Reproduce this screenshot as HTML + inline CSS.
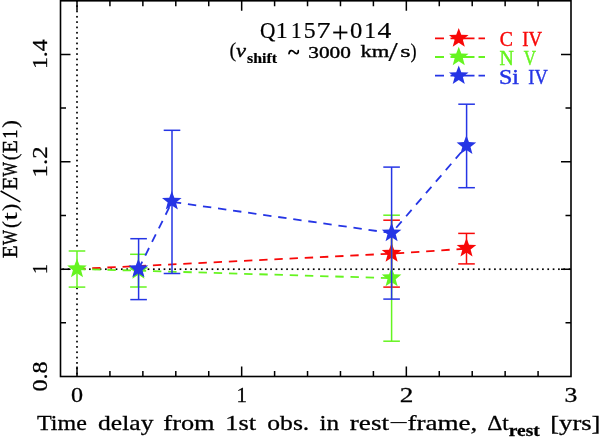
<!DOCTYPE html>
<html><head><meta charset="utf-8"><style>
html,body{margin:0;padding:0;background:#fff;}
svg{display:block;will-change:transform;}
</style></head><body>
<svg width="600" height="437" viewBox="0 0 600 437">
<rect width="600" height="437" fill="#fff"/>
<g fill="#000"><rect x="62.35" y="268.35" width="1.7" height="1.7"/><rect x="67.68" y="268.35" width="1.7" height="1.7"/><rect x="73.01" y="268.35" width="1.7" height="1.7"/><rect x="78.34" y="268.35" width="1.7" height="1.7"/><rect x="83.67" y="268.35" width="1.7" height="1.7"/><rect x="89.00" y="268.35" width="1.7" height="1.7"/><rect x="94.33" y="268.35" width="1.7" height="1.7"/><rect x="99.66" y="268.35" width="1.7" height="1.7"/><rect x="104.99" y="268.35" width="1.7" height="1.7"/><rect x="110.32" y="268.35" width="1.7" height="1.7"/><rect x="115.65" y="268.35" width="1.7" height="1.7"/><rect x="120.98" y="268.35" width="1.7" height="1.7"/><rect x="126.31" y="268.35" width="1.7" height="1.7"/><rect x="131.64" y="268.35" width="1.7" height="1.7"/><rect x="136.97" y="268.35" width="1.7" height="1.7"/><rect x="142.30" y="268.35" width="1.7" height="1.7"/><rect x="147.63" y="268.35" width="1.7" height="1.7"/><rect x="152.96" y="268.35" width="1.7" height="1.7"/><rect x="158.29" y="268.35" width="1.7" height="1.7"/><rect x="163.62" y="268.35" width="1.7" height="1.7"/><rect x="168.95" y="268.35" width="1.7" height="1.7"/><rect x="174.28" y="268.35" width="1.7" height="1.7"/><rect x="179.61" y="268.35" width="1.7" height="1.7"/><rect x="184.94" y="268.35" width="1.7" height="1.7"/><rect x="190.27" y="268.35" width="1.7" height="1.7"/><rect x="195.60" y="268.35" width="1.7" height="1.7"/><rect x="200.93" y="268.35" width="1.7" height="1.7"/><rect x="206.26" y="268.35" width="1.7" height="1.7"/><rect x="211.59" y="268.35" width="1.7" height="1.7"/><rect x="216.92" y="268.35" width="1.7" height="1.7"/><rect x="222.25" y="268.35" width="1.7" height="1.7"/><rect x="227.58" y="268.35" width="1.7" height="1.7"/><rect x="232.91" y="268.35" width="1.7" height="1.7"/><rect x="238.24" y="268.35" width="1.7" height="1.7"/><rect x="243.57" y="268.35" width="1.7" height="1.7"/><rect x="248.90" y="268.35" width="1.7" height="1.7"/><rect x="254.23" y="268.35" width="1.7" height="1.7"/><rect x="259.56" y="268.35" width="1.7" height="1.7"/><rect x="264.89" y="268.35" width="1.7" height="1.7"/><rect x="270.22" y="268.35" width="1.7" height="1.7"/><rect x="275.55" y="268.35" width="1.7" height="1.7"/><rect x="280.88" y="268.35" width="1.7" height="1.7"/><rect x="286.21" y="268.35" width="1.7" height="1.7"/><rect x="291.54" y="268.35" width="1.7" height="1.7"/><rect x="296.87" y="268.35" width="1.7" height="1.7"/><rect x="302.20" y="268.35" width="1.7" height="1.7"/><rect x="307.53" y="268.35" width="1.7" height="1.7"/><rect x="312.86" y="268.35" width="1.7" height="1.7"/><rect x="318.19" y="268.35" width="1.7" height="1.7"/><rect x="323.52" y="268.35" width="1.7" height="1.7"/><rect x="328.85" y="268.35" width="1.7" height="1.7"/><rect x="334.18" y="268.35" width="1.7" height="1.7"/><rect x="339.51" y="268.35" width="1.7" height="1.7"/><rect x="344.84" y="268.35" width="1.7" height="1.7"/><rect x="350.17" y="268.35" width="1.7" height="1.7"/><rect x="355.50" y="268.35" width="1.7" height="1.7"/><rect x="360.83" y="268.35" width="1.7" height="1.7"/><rect x="366.16" y="268.35" width="1.7" height="1.7"/><rect x="371.49" y="268.35" width="1.7" height="1.7"/><rect x="376.82" y="268.35" width="1.7" height="1.7"/><rect x="382.15" y="268.35" width="1.7" height="1.7"/><rect x="387.48" y="268.35" width="1.7" height="1.7"/><rect x="392.81" y="268.35" width="1.7" height="1.7"/><rect x="398.14" y="268.35" width="1.7" height="1.7"/><rect x="403.47" y="268.35" width="1.7" height="1.7"/><rect x="408.80" y="268.35" width="1.7" height="1.7"/><rect x="414.13" y="268.35" width="1.7" height="1.7"/><rect x="419.46" y="268.35" width="1.7" height="1.7"/><rect x="424.79" y="268.35" width="1.7" height="1.7"/><rect x="430.12" y="268.35" width="1.7" height="1.7"/><rect x="435.45" y="268.35" width="1.7" height="1.7"/><rect x="440.78" y="268.35" width="1.7" height="1.7"/><rect x="446.11" y="268.35" width="1.7" height="1.7"/><rect x="451.44" y="268.35" width="1.7" height="1.7"/><rect x="456.77" y="268.35" width="1.7" height="1.7"/><rect x="462.10" y="268.35" width="1.7" height="1.7"/><rect x="467.43" y="268.35" width="1.7" height="1.7"/><rect x="472.76" y="268.35" width="1.7" height="1.7"/><rect x="478.09" y="268.35" width="1.7" height="1.7"/><rect x="483.42" y="268.35" width="1.7" height="1.7"/><rect x="488.75" y="268.35" width="1.7" height="1.7"/><rect x="494.08" y="268.35" width="1.7" height="1.7"/><rect x="499.41" y="268.35" width="1.7" height="1.7"/><rect x="504.74" y="268.35" width="1.7" height="1.7"/><rect x="510.07" y="268.35" width="1.7" height="1.7"/><rect x="515.40" y="268.35" width="1.7" height="1.7"/><rect x="520.73" y="268.35" width="1.7" height="1.7"/><rect x="526.06" y="268.35" width="1.7" height="1.7"/><rect x="531.39" y="268.35" width="1.7" height="1.7"/><rect x="536.72" y="268.35" width="1.7" height="1.7"/><rect x="542.05" y="268.35" width="1.7" height="1.7"/><rect x="547.38" y="268.35" width="1.7" height="1.7"/><rect x="552.71" y="268.35" width="1.7" height="1.7"/><rect x="558.04" y="268.35" width="1.7" height="1.7"/><rect x="563.37" y="268.35" width="1.7" height="1.7"/><rect x="568.70" y="268.35" width="1.7" height="1.7"/><rect x="76.15" y="-0.05" width="1.7" height="1.7"/><rect x="76.15" y="5.28" width="1.7" height="1.7"/><rect x="76.15" y="10.60" width="1.7" height="1.7"/><rect x="76.15" y="15.92" width="1.7" height="1.7"/><rect x="76.15" y="21.25" width="1.7" height="1.7"/><rect x="76.15" y="26.57" width="1.7" height="1.7"/><rect x="76.15" y="31.90" width="1.7" height="1.7"/><rect x="76.15" y="37.23" width="1.7" height="1.7"/><rect x="76.15" y="42.55" width="1.7" height="1.7"/><rect x="76.15" y="47.88" width="1.7" height="1.7"/><rect x="76.15" y="53.20" width="1.7" height="1.7"/><rect x="76.15" y="58.53" width="1.7" height="1.7"/><rect x="76.15" y="63.85" width="1.7" height="1.7"/><rect x="76.15" y="69.18" width="1.7" height="1.7"/><rect x="76.15" y="74.50" width="1.7" height="1.7"/><rect x="76.15" y="79.83" width="1.7" height="1.7"/><rect x="76.15" y="85.15" width="1.7" height="1.7"/><rect x="76.15" y="90.48" width="1.7" height="1.7"/><rect x="76.15" y="95.80" width="1.7" height="1.7"/><rect x="76.15" y="101.13" width="1.7" height="1.7"/><rect x="76.15" y="106.45" width="1.7" height="1.7"/><rect x="76.15" y="111.78" width="1.7" height="1.7"/><rect x="76.15" y="117.10" width="1.7" height="1.7"/><rect x="76.15" y="122.43" width="1.7" height="1.7"/><rect x="76.15" y="127.75" width="1.7" height="1.7"/><rect x="76.15" y="133.08" width="1.7" height="1.7"/><rect x="76.15" y="138.40" width="1.7" height="1.7"/><rect x="76.15" y="143.73" width="1.7" height="1.7"/><rect x="76.15" y="149.05" width="1.7" height="1.7"/><rect x="76.15" y="154.38" width="1.7" height="1.7"/><rect x="76.15" y="159.70" width="1.7" height="1.7"/><rect x="76.15" y="165.02" width="1.7" height="1.7"/><rect x="76.15" y="170.35" width="1.7" height="1.7"/><rect x="76.15" y="175.67" width="1.7" height="1.7"/><rect x="76.15" y="181.00" width="1.7" height="1.7"/><rect x="76.15" y="186.32" width="1.7" height="1.7"/><rect x="76.15" y="191.65" width="1.7" height="1.7"/><rect x="76.15" y="196.97" width="1.7" height="1.7"/><rect x="76.15" y="202.30" width="1.7" height="1.7"/><rect x="76.15" y="207.62" width="1.7" height="1.7"/><rect x="76.15" y="212.95" width="1.7" height="1.7"/><rect x="76.15" y="218.27" width="1.7" height="1.7"/><rect x="76.15" y="223.60" width="1.7" height="1.7"/><rect x="76.15" y="228.92" width="1.7" height="1.7"/><rect x="76.15" y="234.25" width="1.7" height="1.7"/><rect x="76.15" y="239.57" width="1.7" height="1.7"/><rect x="76.15" y="244.90" width="1.7" height="1.7"/><rect x="76.15" y="287.50" width="1.7" height="1.7"/><rect x="76.15" y="292.82" width="1.7" height="1.7"/><rect x="76.15" y="298.15" width="1.7" height="1.7"/><rect x="76.15" y="303.47" width="1.7" height="1.7"/><rect x="76.15" y="308.80" width="1.7" height="1.7"/><rect x="76.15" y="314.12" width="1.7" height="1.7"/><rect x="76.15" y="319.45" width="1.7" height="1.7"/><rect x="76.15" y="324.77" width="1.7" height="1.7"/><rect x="76.15" y="330.10" width="1.7" height="1.7"/><rect x="76.15" y="335.42" width="1.7" height="1.7"/><rect x="76.15" y="340.75" width="1.7" height="1.7"/><rect x="76.15" y="346.07" width="1.7" height="1.7"/><rect x="76.15" y="351.40" width="1.7" height="1.7"/><rect x="76.15" y="356.72" width="1.7" height="1.7"/><rect x="76.15" y="362.05" width="1.7" height="1.7"/><rect x="76.15" y="367.37" width="1.7" height="1.7"/><rect x="76.15" y="372.70" width="1.7" height="1.7"/></g>
<path d="M77.00,376.5v-10M77.00,0.8v10M109.93,376.5v-5.5M109.93,0.8v5.5M142.87,376.5v-5.5M142.87,0.8v5.5M175.80,376.5v-5.5M175.80,0.8v5.5M208.74,376.5v-5.5M208.74,0.8v5.5M241.67,376.5v-10M241.67,0.8v10M274.60,376.5v-5.5M274.60,0.8v5.5M307.54,376.5v-5.5M307.54,0.8v5.5M340.47,376.5v-5.5M340.47,0.8v5.5M373.41,376.5v-5.5M373.41,0.8v5.5M406.34,376.5v-10M406.34,0.8v10M439.27,376.5v-5.5M439.27,0.8v5.5M472.21,376.5v-5.5M472.21,0.8v5.5M505.14,376.5v-5.5M505.14,0.8v5.5M538.08,376.5v-5.5M538.08,0.8v5.5M60.5,322.82h5.5M571.0,322.82h-5.5M60.5,269.14h10M571.0,269.14h-10M60.5,215.46h5.5M571.0,215.46h-5.5M60.5,161.78h10M571.0,161.78h-10M60.5,108.10h5.5M571.0,108.10h-5.5M60.5,54.42h10M571.0,54.42h-10" stroke="#000" stroke-width="1.5" fill="none"/>
<rect x="60.5" y="0.8" width="510.5" height="375.7" fill="none" stroke="#000" stroke-width="1.6"/>
<polyline points="77,269.0 391.6,253.65 466.5,248.65" fill="none" stroke="#f80808" stroke-width="1.8" stroke-dasharray="8.4 6.8"/>
<line x1="391.6" y1="220.2" x2="391.6" y2="287.1" stroke="#f80808" stroke-width="1.5"/><line x1="383.3" y1="220.2" x2="399.90000000000003" y2="220.2" stroke="#f80808" stroke-width="1.5"/><line x1="383.3" y1="287.1" x2="399.90000000000003" y2="287.1" stroke="#f80808" stroke-width="1.5"/>
<line x1="466.5" y1="233.4" x2="466.5" y2="263.9" stroke="#f80808" stroke-width="1.5"/><line x1="458.2" y1="233.4" x2="474.8" y2="233.4" stroke="#f80808" stroke-width="1.5"/><line x1="458.2" y1="263.9" x2="474.8" y2="263.9" stroke="#f80808" stroke-width="1.5"/>
<polygon points="391.60,243.00 394.14,249.80 401.40,250.12 395.71,254.64 397.65,261.63 391.60,257.63 385.55,261.63 387.49,254.64 381.80,250.12 389.06,249.80" fill="#f80808"/>
<polygon points="466.50,237.90 469.04,244.70 476.30,245.02 470.61,249.54 472.55,256.53 466.50,252.53 460.45,256.53 462.39,249.54 456.70,245.02 463.96,244.70" fill="#f80808"/>
<polyline points="77,269.05 138.4,270.65 391.6,278.2" fill="none" stroke="#66f420" stroke-width="1.8" stroke-dasharray="8.4 6.8"/>
<line x1="77" y1="251.0" x2="77" y2="287.1" stroke="#66f420" stroke-width="1.5"/><line x1="68.7" y1="251.0" x2="85.3" y2="251.0" stroke="#66f420" stroke-width="1.5"/><line x1="68.7" y1="287.1" x2="85.3" y2="287.1" stroke="#66f420" stroke-width="1.5"/>
<line x1="138.4" y1="254.3" x2="138.4" y2="287.0" stroke="#66f420" stroke-width="1.5"/><line x1="130.1" y1="254.3" x2="146.70000000000002" y2="254.3" stroke="#66f420" stroke-width="1.5"/><line x1="130.1" y1="287.0" x2="146.70000000000002" y2="287.0" stroke="#66f420" stroke-width="1.5"/>
<line x1="391.6" y1="215.2" x2="391.6" y2="341.2" stroke="#66f420" stroke-width="1.5"/><line x1="383.3" y1="215.2" x2="399.90000000000003" y2="215.2" stroke="#66f420" stroke-width="1.5"/><line x1="383.3" y1="341.2" x2="399.90000000000003" y2="341.2" stroke="#66f420" stroke-width="1.5"/>
<polygon points="77.00,258.50 79.54,265.30 86.80,265.62 81.11,270.14 83.05,277.13 77.00,273.13 70.95,277.13 72.89,270.14 67.20,265.62 74.46,265.30" fill="#66f420"/>
<polygon points="138.40,260.20 140.94,267.00 148.20,267.32 142.51,271.84 144.45,278.83 138.40,274.83 132.35,278.83 134.29,271.84 128.60,267.32 135.86,267.00" fill="#66f420"/>
<polygon points="391.60,267.50 394.14,274.30 401.40,274.62 395.71,279.14 397.65,286.13 391.60,282.13 385.55,286.13 387.49,279.14 381.80,274.62 389.06,274.30" fill="#66f420"/>
<polyline points="138.5,269.15 172.0,201.9 391.6,233.1 466.6,145.95" fill="none" stroke="#2535e5" stroke-width="1.8" stroke-dasharray="8.4 6.8"/>
<line x1="138.6" y1="238.7" x2="138.6" y2="299.6" stroke="#2535e5" stroke-width="1.5"/><line x1="130.29999999999998" y1="238.7" x2="146.9" y2="238.7" stroke="#2535e5" stroke-width="1.5"/><line x1="130.29999999999998" y1="299.6" x2="146.9" y2="299.6" stroke="#2535e5" stroke-width="1.5"/>
<line x1="172.0" y1="130.3" x2="172.0" y2="273.5" stroke="#2535e5" stroke-width="1.5"/><line x1="163.7" y1="130.3" x2="180.3" y2="130.3" stroke="#2535e5" stroke-width="1.5"/><line x1="163.7" y1="273.5" x2="180.3" y2="273.5" stroke="#2535e5" stroke-width="1.5"/>
<line x1="391.6" y1="167.1" x2="391.6" y2="299.1" stroke="#2535e5" stroke-width="1.5"/><line x1="383.3" y1="167.1" x2="399.90000000000003" y2="167.1" stroke="#2535e5" stroke-width="1.5"/><line x1="383.3" y1="299.1" x2="399.90000000000003" y2="299.1" stroke="#2535e5" stroke-width="1.5"/>
<line x1="466.6" y1="104.2" x2="466.6" y2="187.7" stroke="#2535e5" stroke-width="1.5"/><line x1="458.3" y1="104.2" x2="474.90000000000003" y2="104.2" stroke="#2535e5" stroke-width="1.5"/><line x1="458.3" y1="187.7" x2="474.90000000000003" y2="187.7" stroke="#2535e5" stroke-width="1.5"/>
<polygon points="138.40,258.50 140.94,265.30 148.20,265.62 142.51,270.14 144.45,277.13 138.40,273.13 132.35,277.13 134.29,270.14 128.60,265.62 135.86,265.30" fill="#2535e5"/>
<polygon points="171.80,190.90 174.34,197.70 181.60,198.02 175.91,202.54 177.85,209.53 171.80,205.53 165.75,209.53 167.69,202.54 162.00,198.02 169.26,197.70" fill="#2535e5"/>
<polygon points="391.60,222.70 394.14,229.50 401.40,229.82 395.71,234.34 397.65,241.33 391.60,237.33 385.55,241.33 387.49,234.34 381.80,229.82 389.06,229.50" fill="#2535e5"/>
<polygon points="466.40,135.30 468.94,142.10 476.20,142.42 470.51,146.94 472.45,153.93 466.40,149.93 460.35,153.93 462.29,146.94 456.60,142.42 463.86,142.10" fill="#2535e5"/>
<path d="M435,38.3H444M450.5,38.3H474.5M478.5,38.3H485" stroke="#f80808" stroke-width="1.8"/>
<polygon points="458.75,28.00 461.29,34.80 468.55,35.12 462.86,39.64 464.80,46.63 458.75,42.63 452.70,46.63 454.64,39.64 448.95,35.12 456.21,34.80" fill="#f80808"/>
<path d="M435,57.0H444M450.5,57.0H474.5M478.5,57.0H485" stroke="#66f420" stroke-width="1.8"/>
<polygon points="458.75,46.70 461.29,53.50 468.55,53.82 462.86,58.34 464.80,65.33 458.75,61.33 452.70,65.33 454.64,58.34 448.95,53.82 456.21,53.50" fill="#66f420"/>
<path d="M435,75.7H444M450.5,75.7H474.5M478.5,75.7H485" stroke="#2535e5" stroke-width="1.8"/>
<polygon points="458.75,65.40 461.29,72.20 468.55,72.52 462.86,77.04 464.80,84.03 458.75,80.03 452.70,84.03 454.64,77.04 448.95,72.52 456.21,72.20" fill="#2535e5"/>
<line x1="0.6" y1="191" x2="20.3" y2="201.9" stroke="#000" stroke-width="1.6"/>
<path d="M289,53.6 C289.6,49.6 292.6,50.2 293.8,51.8 C295,53.4 298.4,55.2 298.3,50.7" fill="none" stroke="#000" stroke-width="1.7" stroke-linecap="round"/>
<g font-family="Liberation Serif"><text transform="translate(37.06,429.60) scale(1.0899,1.0000)" font-size="22.0" stroke="#000" stroke-width="0.3" fill="#000">Time</text>
<text transform="translate(98.07,429.60) scale(1.1645,1.0000)" font-size="22.0" stroke="#000" stroke-width="0.3" fill="#000">delay</text>
<text transform="translate(163.36,429.60) scale(1.1990,1.0000)" font-size="22.0" stroke="#000" stroke-width="0.3" fill="#000">from</text>
<text transform="translate(225.22,429.60) scale(1.1992,1.0000)" font-size="22.0" stroke="#000" stroke-width="0.3" fill="#000">1st</text>
<text transform="translate(267.27,429.60) scale(1.1657,1.0000)" font-size="22.0" stroke="#000" stroke-width="0.3" fill="#000">obs.</text>
<text transform="translate(319.53,429.60) scale(1.1472,1.0000)" font-size="22.0" stroke="#000" stroke-width="0.3" fill="#000">in</text>
<text transform="translate(349.81,429.60) scale(1.2340,1.0000)" font-size="22.0" stroke="#000" stroke-width="0.3" fill="#000">rest</text>
<text transform="translate(388.74,429.60) scale(1.5980,1.0000)" font-size="22.0" fill="#000">−</text>
<text transform="translate(407.44,429.60) scale(1.2322,1.0000)" font-size="22.0" stroke="#000" stroke-width="0.3" fill="#000">frame,</text>
<text transform="translate(487.25,429.60) scale(1.0674,1.0000)" font-size="22.0" stroke="#000" stroke-width="0.3" fill="#000">Δt</text>
<text transform="translate(508.82,436.00) scale(1.1976,1.0000)" font-size="16.2" font-weight="bold" stroke="#000" stroke-width="0.3" fill="#000">rest</text>
<text transform="translate(550.27,429.60) scale(1.2089,1.0000)" font-size="22.0" stroke="#000" stroke-width="0.3" fill="#000">[yrs]</text>
<text transform="translate(71.02,401.50) scale(1.0957,1.0000)" font-size="22.0" stroke="#000" stroke-width="0.3" fill="#000">0</text>
<text transform="translate(236.50,401.50) scale(0.9487,1.0000)" font-size="22.0" stroke="#000" stroke-width="0.3" fill="#000">1</text>
<text transform="translate(399.76,401.50) scale(1.2386,1.0000)" font-size="22.0" stroke="#000" stroke-width="0.3" fill="#000">2</text>
<text transform="translate(564.54,401.50) scale(1.1648,1.0000)" font-size="22.0" stroke="#000" stroke-width="0.3" fill="#000">3</text>
<text transform="translate(47.20,391.60) rotate(-90) scale(1.1225,1.0000)" font-size="21.5" stroke="#000" stroke-width="0.3" fill="#000">0.8</text>
<text transform="translate(47.20,273.95) rotate(-90) scale(0.9211,1.0000)" font-size="21.5" stroke="#000" stroke-width="0.3" fill="#000">1</text>
<text transform="translate(47.20,177.39) rotate(-90) scale(1.1513,1.0000)" font-size="21.5" stroke="#000" stroke-width="0.3" fill="#000">1.2</text>
<text transform="translate(47.20,69.11) rotate(-90) scale(1.1098,1.0000)" font-size="21.5" stroke="#000" stroke-width="0.3" fill="#000">1.4</text>
<text transform="translate(16.70,257.98) rotate(-90) scale(0.9649,1.0000)" font-size="21.3" stroke="#000" stroke-width="0.5" fill="#000">E</text>
<text transform="translate(16.70,244.90) rotate(-90) scale(0.7413,1.0000)" font-size="21.3" stroke="#000" stroke-width="0.5" fill="#000">W</text>
<text transform="translate(16.70,227.97) rotate(-90) scale(0.9636,1.0000)" font-size="21.3" stroke="#000" stroke-width="0.25" fill="#000">(</text>
<text transform="translate(16.70,220.58) rotate(-90) scale(1.3929,1.0000)" font-size="21.3" stroke="#000" stroke-width="0.2" fill="#000">t</text>
<text transform="translate(16.70,211.01) rotate(-90) scale(1.0182,1.0000)" font-size="21.3" stroke="#000" stroke-width="0.25" fill="#000">)</text>
<text transform="translate(16.70,189.69) rotate(-90) scale(0.9912,1.0000)" font-size="21.3" stroke="#000" stroke-width="0.5" fill="#000">E</text>
<text transform="translate(16.70,176.50) rotate(-90) scale(0.7114,1.0000)" font-size="21.3" stroke="#000" stroke-width="0.5" fill="#000">W</text>
<text transform="translate(16.70,160.15) rotate(-90) scale(0.9455,1.0000)" font-size="21.3" stroke="#000" stroke-width="0.25" fill="#000">(</text>
<text transform="translate(16.70,152.89) rotate(-90) scale(0.9912,1.0000)" font-size="21.3" stroke="#000" stroke-width="0.5" fill="#000">E</text>
<text transform="translate(16.70,138.65) rotate(-90) scale(0.8667,1.0000)" font-size="21.3" stroke="#000" stroke-width="0.5" fill="#000">1</text>
<text transform="translate(16.70,127.76) rotate(-90) scale(1.0909,1.0000)" font-size="21.3" stroke="#000" stroke-width="0.25" fill="#000">)</text>
<text transform="translate(259.95,38.40) scale(0.9467,1.0000)" font-size="22.5" stroke="#000" stroke-width="0.2" fill="#000">Q</text>
<text transform="translate(275.77,38.40) scale(1.0633,1.0000)" font-size="22.5" stroke="#000" stroke-width="0.2" fill="#000">1</text>
<text transform="translate(291.00,38.40) scale(0.9494,1.0000)" font-size="22.5" stroke="#000" stroke-width="0.2" fill="#000">1</text>
<text transform="translate(303.63,38.40) scale(1.0549,1.0000)" font-size="22.5" stroke="#000" stroke-width="0.2" fill="#000">5</text>
<text transform="translate(316.44,38.40) scale(1.2418,1.0000)" font-size="22.5" stroke="#000" stroke-width="0.2" fill="#000">7</text>
<text transform="translate(349.93,38.40) scale(1.0938,1.0000)" font-size="22.5" stroke="#000" stroke-width="0.2" fill="#000">0</text>
<text transform="translate(364.20,38.40) scale(1.0506,1.0000)" font-size="22.5" stroke="#000" stroke-width="0.2" fill="#000">1</text>
<text transform="translate(377.41,38.40) scale(1.2286,1.0000)" font-size="22.5" stroke="#000" stroke-width="0.2" fill="#000">4</text>
<text transform="translate(331.82,41.81) scale(1.3429,1.3238)" font-size="22.5" stroke="#000" stroke-width="0.1" fill="#000">+</text>
<text transform="translate(229.38,56.89) scale(1.1556,1.1384)" font-size="17.5" stroke="#000" stroke-width="0.15" fill="#000">(</text>
<text transform="translate(236.04,57.09) scale(1.2895,1.0602)" font-size="17.5" font-style="italic" stroke="#000" stroke-width="0.3" fill="#000">v</text>
<text transform="translate(247.03,63.28) scale(1.1800,1.0825)" font-size="13.5" font-weight="bold" stroke="#000" stroke-width="0.2" fill="#000">shift</text>
<text transform="translate(308.33,57.80) scale(1.2149,1.0084)" font-size="17.5" stroke="#000" stroke-width="0.4" fill="#000">3000</text>
<text transform="translate(360.51,56.90) scale(1.2890,1.0081)" font-size="17.5" stroke="#000" stroke-width="0.35" fill="#000">km</text>
<text transform="translate(388.50,60.89) scale(1.8980,1.5339)" font-size="17.5" stroke="#000" stroke-width="0.15" fill="#000">/</text>
<text transform="translate(400.34,56.82) scale(1.5091,0.9059)" font-size="17.5" stroke="#000" stroke-width="0.35" fill="#000">s</text>
<text transform="translate(410.57,58.14) scale(1.0444,1.2327)" font-size="17.5" stroke="#000" stroke-width="0.15" fill="#000">)</text>
<text transform="translate(499.87,46.10) scale(0.9187,1.0000)" font-size="21.5" stroke="#f80808" stroke-width="0.45" fill="#f80808">C</text>
<text transform="translate(522.30,46.10) scale(0.8704,1.0000)" font-size="21.5" stroke="#f80808" stroke-width="0.45" fill="#f80808">IV</text>
<text transform="translate(499.45,64.90) scale(0.9236,1.0000)" font-size="21.5" stroke="#66f420" stroke-width="0.45" fill="#66f420">N</text>
<text transform="translate(523.74,64.90) scale(0.7881,1.0000)" font-size="21.5" stroke="#66f420" stroke-width="0.45" fill="#66f420">V</text>
<text transform="translate(498.93,83.60) scale(1.1180,1.0000)" font-size="21.5" stroke="#2535e5" stroke-width="0.45" fill="#2535e5">Si</text>
<text transform="translate(528.31,83.60) scale(0.8565,1.0000)" font-size="21.5" stroke="#2535e5" stroke-width="0.45" fill="#2535e5">IV</text></g>
</svg></body></html>
